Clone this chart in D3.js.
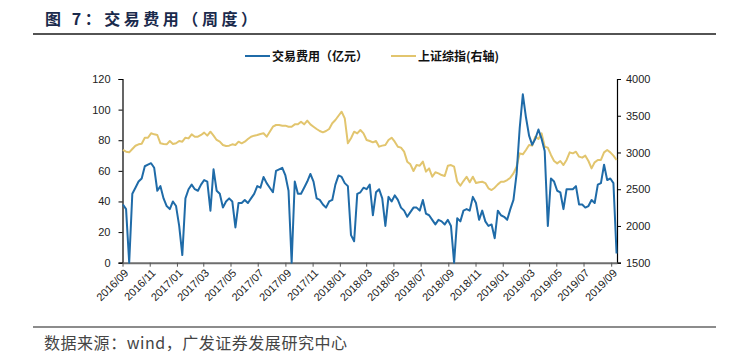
<!DOCTYPE html>
<html>
<head>
<meta charset="utf-8">
<script src="https://cdn.jsdelivr.net/npm/d3@7"></script>
<style>
  html, body { margin: 0; padding: 0; background: #fff; }
  svg { display: block; }
</style>
</head>
<body>
<svg id="chart" width="743" height="364"></svg>
<script>
const firstWeek = '2016-09-02'

// weekly trading fees, 100m yuan (left axis)
const feeValues = [
  38, 35, 0, 45, 49, 53, 55, 63, 64, 65,
  62, 47, 50, 42, 37, 35, 40, 37, 24, 5,
  42, 48, 51, 48, 47, 51, 54, 53, 34, 61,
  47, 45, 36, 40, 42, 40, 23, 39, 39, 41,
  39, 42, 45, 50, 49, 56, 52, 49, 46, 60,
  61, 62, 57, 47, 0, 53, 45, 45, 49, 53,
  58, 53, 42, 41, 38, 36, 40, 41, 51, 57,
  56, 52, 50, 18, 14, 45, 46, 49, 48, 51,
  31, 46, 48, 42, 24, 43, 40, 44, 41, 36,
  34, 30, 33, 36, 36, 34, 41, 32, 31, 28,
  25, 28, 27, 25, 28, 24, 0, 29, 27, 34,
  35, 34, 43, 39, 28, 34, 27, 24, 25, 16,
  34, 31, 30, 28, 35, 41, 58, 88, 110, 95,
  83, 77, 81, 87, 81, 73, 24, 55, 53, 47,
  46, 35, 48, 48, 48, 50, 38, 38, 36, 37,
  41, 39, 51, 52, 64, 54, 55, 52, 6
]

// Shanghai composite (right axis)
const indexValues = [
  3034, 3011, 3002, 3047, 3092, 3111, 3120, 3201, 3201, 3261,
  3247, 3238, 3125, 3116, 3111, 3156, 3116, 3125, 3156, 3147,
  3201, 3192, 3247, 3215, 3215, 3238, 3270, 3229, 3283, 3229,
  3170, 3147, 3102, 3089, 3093, 3111, 3102, 3147, 3125, 3147,
  3183, 3215, 3229, 3238, 3252, 3261, 3215, 3283, 3351, 3374,
  3374, 3365, 3365, 3351, 3351, 3383, 3383, 3419, 3383, 3433,
  3383, 3351, 3320, 3292, 3274, 3292, 3320, 3397, 3442, 3500,
  3555, 3465, 3125, 3193, 3283, 3260, 3306, 3260, 3170, 3156,
  3138, 3156, 3079, 3093, 3102, 3170, 3201, 3147, 3079, 3066,
  3011, 2875, 2839, 2748, 2829, 2820, 2875, 2739, 2784, 2670,
  2730, 2716, 2693, 2680, 2820, 2829, 2807, 2602, 2548, 2611,
  2670, 2594, 2670, 2584, 2594, 2602, 2584, 2512, 2489, 2521,
  2566, 2602, 2602, 2625, 2657, 2716, 2807, 2988, 2975, 3034,
  3102, 3093, 3215, 3183, 3261, 3079, 3066, 2966, 2884, 2852,
  2884, 2829, 2898, 3002, 2988, 3011, 2943, 2930, 2957, 2884,
  2784, 2866, 2898, 2898, 3002, 3034, 3002, 2957, 2898
]

const leftTicks = [0, 20, 40, 60, 80, 100, 120]
const rightTicks = [1500, 2000, 2500, 3000, 3500, 4000]
const seriesNames = ['交易费用（亿元）', '上证综指(右轴)']
const seriesColors = ['#1f6ba8', '#e2c56e']
const titleText = '图 7：交易费用（周度）'
const sourceText = '数据来源：wind，广发证券发展研究中心'

const cjk = '"Noto Sans CJK SC", "Noto Sans", sans-serif'
const latin = '"Liberation Sans", Arial, sans-serif'

const parseDay = d3.timeParse('%Y-%m-%d')
const start = parseDay(firstWeek)
const weeks = feeValues.map((v, i) => d3.timeDay.offset(start, 7 * i))

const svg = d3.select('#chart')

const plot = { left: 122.5, right: 617, top: 79, bottom: 262.7 }

const x = d3.scaleTime()
  .domain([parseDay('2016-09-01'), parseDay('2019-09-14')])
  .range([plot.left, plot.right])

const yLeft = d3.scaleLinear().domain([0, 120]).range([plot.bottom, plot.top])
const yRight = d3.scaleLinear().domain([1500, 4000]).range([plot.bottom, plot.top])

// title + rule
svg.append('text')
  .attr('x', 45)
  .attr('y', 25)
  .attr('textLength', 212)
  .attr('lengthAdjust', 'spacing')
  .style('font-family', cjk)
  .style('font-weight', 700)
  .style('font-size', '16px')
  .style('fill', '#1a2a4c')
  .text(titleText)

svg.append('line')
  .attr('x1', 33).attr('x2', 716)
  .attr('y1', 34).attr('y2', 34)
  .style('stroke', '#1a1a1a')
  .style('stroke-width', 1.5)

// footer
svg.append('line')
  .attr('x1', 33).attr('x2', 716)
  .attr('y1', 327).attr('y2', 327)
  .style('stroke', '#1a1a1a')
  .style('stroke-width', 1.2)

svg.append('text')
  .attr('x', 44)
  .attr('y', 349)
  .attr('textLength', 303)
  .attr('lengthAdjust', 'spacing')
  .style('font-family', cjk)
  .style('font-size', '16px')
  .style('fill', '#444')
  .text(sourceText)

// legend
const legend = [
  { name: seriesNames[0], color: seriesColors[0], x: 245 },
  { name: seriesNames[1], color: seriesColors[1], x: 391 }
]
legend.forEach(item => {
  svg.append('line')
    .attr('x1', item.x).attr('x2', item.x + 25)
    .attr('y1', 56).attr('y2', 56)
    .style('stroke', item.color)
    .style('stroke-width', 2)
  svg.append('text')
    .attr('x', item.x + 27)
    .attr('y', 60.5)
    .style('font-family', cjk)
    .style('font-weight', 700)
    .style('font-size', '12px')
    .style('fill', '#111')
    .text(item.name)
})

// axes
function styleAxis(g) {
  g.selectAll('.domain').style('stroke', '#000').style('stroke-width', 1.2)
  g.selectAll('.tick line').style('stroke', '#000')
  g.selectAll('.tick text')
    .style('font-family', latin)
    .style('font-size', '11px')
    .style('fill', '#222')
}

svg.append('g')
  .attr('transform', `translate(${plot.left},0)`)
  .call(d3.axisLeft(yLeft).tickValues(leftTicks).tickSize(4).tickSizeOuter(4).tickPadding(8))
  .call(styleAxis)

svg.append('g')
  .attr('transform', `translate(${plot.right},0)`)
  .call(d3.axisRight(yRight)
    .tickValues(rightTicks)
    .tickFormat(d3.format('d'))
    .tickSize(4)
    .tickSizeOuter(4)
    .tickPadding(5))
  .call(styleAxis)

const xAxis = svg.append('g')
  .attr('transform', `translate(0,${plot.bottom})`)
  .call(d3.axisBottom(x)
    .ticks(d3.timeMonth.every(2))
    .tickFormat(d3.timeFormat('%Y/%m'))
    .tickSize(4)
    .tickSizeOuter(0))
  .call(styleAxis)

xAxis.select('.domain').style('stroke', '#6e6e6e').style('stroke-width', 2)
xAxis.selectAll('.tick line').style('stroke', '#555')
xAxis.selectAll('.tick text')
  .attr('text-anchor', 'end')
  .attr('dy', null)
  .attr('transform', 'translate(4,9) rotate(-45)')
  .attr('y', 0)
  .attr('x', 0)
  .attr('dominant-baseline', 'middle')

// lines
const feeLine = d3.line()
  .x((d, i) => x(weeks[i]))
  .y(d => yLeft(d))

const indexLine = d3.line()
  .x((d, i) => x(weeks[i]))
  .y(d => yRight(d))

svg.append('path')
  .datum(indexValues)
  .attr('d', indexLine)
  .style('fill', 'none')
  .style('stroke', seriesColors[1])
  .style('stroke-width', 2)
  .style('stroke-linejoin', 'round')

svg.append('path')
  .datum(feeValues)
  .attr('d', feeLine)
  .style('fill', 'none')
  .style('stroke', seriesColors[0])
  .style('stroke-width', 2)
  .style('stroke-linejoin', 'round')
</script>
</body>
</html>
